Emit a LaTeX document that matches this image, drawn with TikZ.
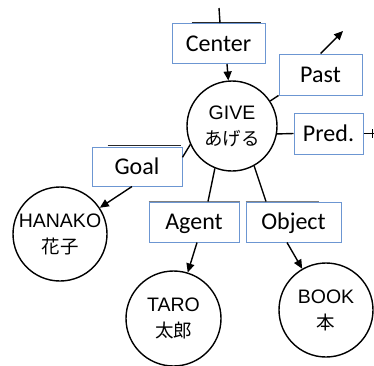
\documentclass[tikz,border=0pt]{standalone}
\usepackage{fontspec}
\setmainfont{Carlito}
\newfontfamily\circfont{Liberation Sans}
\newfontfamily\cjkfont{Noto Sans CJK JP}
\usetikzlibrary{arrows.meta,calc}
\definecolor{boxblue}{RGB}{108,150,210}
\definecolor{artgray}{RGB}{40,40,40}
\tikzset{
  lbl/.style={draw=boxblue, line width=1pt, rectangle, minimum height=40pt,
    inner sep=0pt, text height=15.5pt, text depth=0pt,
    font=\fontsize{24}{26}\selectfont},
  concept/.style={draw, circle, line width=1.4pt, inner sep=0pt, align=center,
    font=\circfont\fontsize{19.5}{26}\selectfont},
  link/.style={line width=1.4pt},
  arr/.style={link, -{Triangle[length=9pt,width=8pt]}},
  artline/.style={line width=1.4pt, artgray},
}
\newcommand{\jp}[1]{{\cjkfont\fontsize{18.5}{26}\selectfont #1}}
\begin{document}
\begin{tikzpicture}[x=1pt,y=-1pt]
\useasboundingbox (0,0) rectangle (374,365);

% concept circles
\node[concept, minimum size=90pt] (give) at (232,126) {GIVE\\\jp{あげる}};
\node[concept, minimum size=94pt] (hanako) at (60,234) {HANAKO\\\jp{花子}};
\node[concept, minimum size=95pt] (taro) at (173.5,318.5) {TARO\\\jp{太郎}};
\node[concept, minimum size=94pt] (book) at (326,310) {BOOK\\\jp{本}};

% label boxes
\node[lbl, minimum width=93pt] (center) at (218.5,43.5) {Center};
\node[lbl, minimum width=83pt, minimum height=41pt] (past) at (320.5,74.5) {Past};
\node[lbl, minimum width=69pt, minimum height=41pt] (pred) at (328.5,133.5) {Pred.};
\node[lbl, minimum width=90pt, minimum height=39pt] (goal) at (137,166.5) {Goal};
\node[lbl, minimum width=90pt] (agent) at (194,222) {Agent};
\node[lbl, minimum width=95pt] (object) at (293.5,222) {Object};

% free ends
\coordinate (topend) at (219,8);
\coordinate (pastend) at (343,31);
\coordinate (predend) at (374,133.5);

% stray dark lines on box tops
\draw[artline] ($(center.north west)+(20,-0.5)$) -- ($(center.north east)+(-5,-0.5)$);
\draw[artline] ($(goal.north west)+(16,-0.8)$) -- ($(goal.north east)+(-2,-0.8)$);
\draw[line width=0.9pt, gray] (agent.north west) -- (agent.north east);
\draw[line width=0.9pt, gray] (object.north west) -- ($(object.north east)+(-23,0)$);

% connectors
\draw[link] (topend) -- ($(center.north)+(1.5,0)$);
\draw[arr] ($(center.south)+(8.5,0)$) -- (give);
\draw[link] (give) -- (past.south west);
\draw[arr] (past.north) -- (pastend);
\draw[link] (give.-10) -- (pred.west);
\draw[link] (pred.east) -- (predend);
\draw[link] (372.5,129) -- (372.5,138);
\draw[link] (give.204) -- ($(goal.north east)!0.27!(goal.south east)$);
\draw[arr] ($(goal.south)+(-5,0)$) -- (hanako);
\draw[link] (give.248) -- ($(agent.north)+(14,0)$);
\draw[link] (give.299) -- ($(object.north)+(-27.5,0)$);
\draw[arr] ($(agent.south)+(3,0)$) -- (taro);
\draw[arr] ($(object.south)+(-6.5,0)$) -- (book);
\end{tikzpicture}
\end{document}
